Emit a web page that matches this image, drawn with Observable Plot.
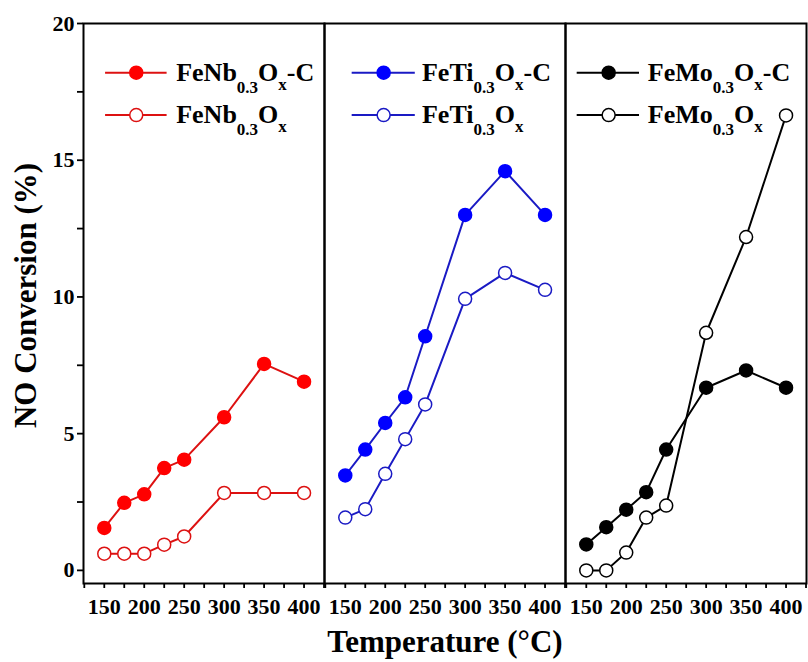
<!DOCTYPE html>
<html>
<head>
<meta charset="utf-8">
<script src="https://cdn.jsdelivr.net/npm/d3@7"></script>
<script src="https://cdn.jsdelivr.net/npm/@observablehq/plot@0.6"></script>
<style>
  html, body { margin: 0; padding: 0; background: white; }
</style>
</head>
<body>
<div id="chart"></div>
<script>
// ---- data ----
const panels = ["Nb", "Ti", "Mo"];
const temps = [150, 175, 200, 225, 250, 300, 350, 400];
const nbC = [1.55, 2.47, 2.78, 3.74, 4.05, 5.6, 7.55, 6.9];
const nb  = [0.61, 0.61, 0.61, 0.94, 1.24, 2.83, 2.83, 2.83];
const tiC = [3.47, 4.42, 5.39, 6.33, 8.56, 13.0, 14.6, 13.0];
const ti  = [1.93, 2.24, 3.53, 4.8, 6.07, 9.93, 10.88, 10.26];
const moC = [0.95, 1.58, 2.22, 2.86, 4.42, 6.68, 7.31, 6.68];
const mo  = [0, 0, 0.65, 1.93, 2.37, 8.69, 12.19, 16.64];
const seriesLabels = {
  Nb: ["FeNb_{0.3}O_{x}-C", "FeNb_{0.3}O_{x}"],
  Ti: ["FeTi_{0.3}O_{x}-C", "FeTi_{0.3}O_{x}"],
  Mo: ["FeMo_{0.3}O_{x}-C", "FeMo_{0.3}O_{x}"]
};
const xTicks = [125, 150, 175, 200, 225, 250, 275, 300, 325, 350, 375, 400, 425];
const xTickLabels = [150, 200, 250, 300, 350, 400];
const yTicks = [0, 2.5, 5, 7.5, 10, 12.5, 15, 17.5, 20];
const yTickLabels = [0, 5, 10, 15, 20];

// ---- styles ----
const lineColor = {Nb: "#dd1111", Ti: "#1a1ac4", Mo: "#000000"};
const markColor = {Nb: "#ff0000", Ti: "#0000ff", Mo: "#000000"};
// legend layout (in data units of each panel)
const legendLayout = {
  Nb: {x1: 151, x2: 228, xm: 190, xt: 240},
  Ti: {x1: 158, x2: 237, xm: 198, xt: 246},
  Mo: {x1: 138, x2: 216, xm: 178, xt: 227}
};
const legendRowsY = [18.2, 16.65];

// ---- build tables ----
const seriesValues = {Nb: [nbC, nb], Ti: [tiC, ti], Mo: [moC, mo]};
const rows = [];
for (const p of panels) {
  seriesValues[p].forEach((vals, si) => {
    vals.forEach((v, i) => rows.push({panel: p, series: si === 0 ? "C" : "plain", temp: temps[i], value: v}));
  });
}
const legendRows = [];
for (const p of panels) {
  [0, 1].forEach(si => legendRows.push({
    panel: p, series: si === 0 ? "C" : "plain", label: seriesLabels[p][si],
    ...legendLayout[p], y: legendRowsY[si]
  }));
}
const fillOf = d => d.series === "C" ? markColor[d.panel] : "white";
const strokeOf = d => d.series === "C" ? markColor[d.panel] : lineColor[d.panel];

const chart = Plot.plot({
  width: 808,
  height: 662,
  marginLeft: 82,
  marginRight: 2,
  marginTop: 23,
  marginBottom: 79,
  style: {fontFamily: "'Liberation Serif', 'Times New Roman', serif", fontWeight: "bold", fontSize: "22px", color: "black", background: "white"},
  fx: {domain: panels, padding: 0, axis: null},
  x: {domain: [124, 425.6]},
  y: {domain: [-0.48, 20]},
  color: {type: "identity"},
  marks: [
    Plot.frame({stroke: "black", strokeWidth: 2}),
    // y ticks (all) and labels (every 5)
    Plot.axisY({ticks: yTicks, tickSize: 6, fill: "none", label: null, strokeWidth: 1.8}),
    Plot.axisY({ticks: yTickLabels, tickSize: 0, tickPadding: 9, label: null, fontSize: 22, fill: "black"}),
    // x ticks (every 25) and labels (every 50)
    Plot.axisX({ticks: xTicks, tickSize: 5, fill: "none", label: null, strokeWidth: 1.8}),
    Plot.axisX({ticks: xTickLabels, tickSize: 0, tickPadding: 15, label: null, fontSize: 22, fill: "black"}),
    Plot.line(rows, {x: "temp", y: "value", z: "series", fx: "panel", stroke: d => lineColor[d.panel], strokeWidth: 2}),
    Plot.dot(rows, {x: "temp", y: "value", fx: "panel", r: 6.5, fill: fillOf, stroke: strokeOf, strokeWidth: 1.5}),
    Plot.link(legendRows, {x1: "x1", x2: "x2", y1: "y", y2: "y", fx: "panel", stroke: d => lineColor[d.panel], strokeWidth: 2}),
    Plot.dot(legendRows, {x: "xm", y: "y", fx: "panel", r: 6.5, fill: fillOf, stroke: strokeOf, strokeWidth: 1.5}),
    Plot.text(legendRows, {x: "xt", y: "y", fx: "panel", text: "label", textAnchor: "start", fontSize: 26, fill: "black"}),
    Plot.text([{panel: "Nb"}], {fx: "panel", frameAnchor: "left", text: () => "NO Conversion (%)", rotate: -90, textAnchor: "middle", lineAnchor: "middle", dx: -57, dy: -8, fontSize: 31, fill: "black"}),
    Plot.text([{panel: "Ti"}], {fx: "panel", frameAnchor: "bottom", text: () => "Temperature (°C)", textAnchor: "middle", lineAnchor: "middle", dy: 59, fontSize: 31, fill: "black"})
  ]
});

// render subscripts in legend labels
function richify(svg) {
  svg.querySelectorAll("text").forEach(t => {
    const s = t.textContent;
    if (!s.includes("_{")) return;
    const re = /_\{([^}]*)\}/g;
    const parts = [];
    let last = 0, m;
    while ((m = re.exec(s))) {
      if (m.index > last) parts.push({t: s.slice(last, m.index), sub: false});
      parts.push({t: m[1], sub: true});
      last = re.lastIndex;
    }
    if (last < s.length) parts.push({t: s.slice(last), sub: false});
    t.textContent = "";
    let cur = 0;
    for (const p of parts) {
      const ts = document.createElementNS("http://www.w3.org/2000/svg", "tspan");
      const target = p.sub ? (p.t === "x" ? 9 : 12) : 0;
      ts.setAttribute("dy", target - cur);
      cur = target;
      if (p.sub) ts.setAttribute("font-size", 17);
      ts.textContent = p.t;
      t.appendChild(ts);
    }
  });
}
richify(chart);
document.getElementById("chart").appendChild(chart);
</script>
</body>
</html>
